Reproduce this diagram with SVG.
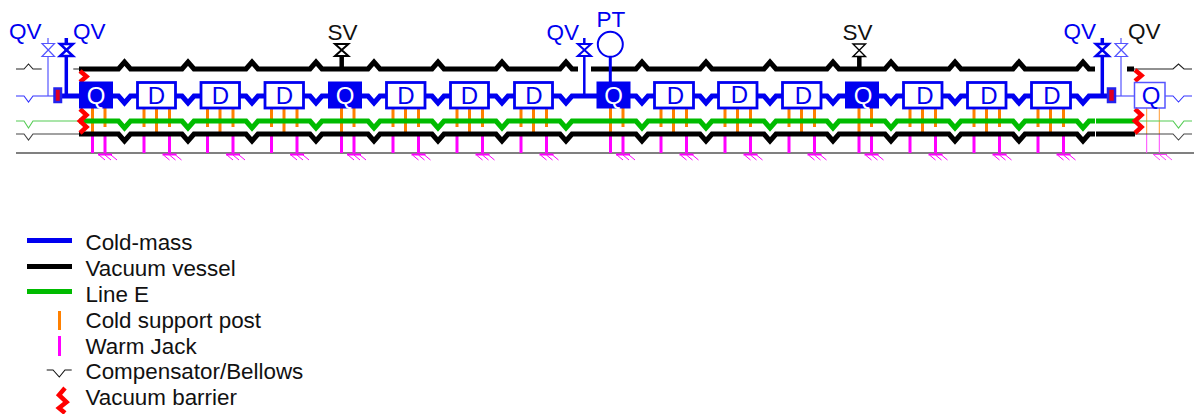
<svg xmlns="http://www.w3.org/2000/svg" width="1194" height="414" viewBox="0 0 1194 414">
<style>
text{font-family:"Liberation Sans",Arial,sans-serif;font-size:22.5px;text-anchor:start}
.lg{font-size:22.4px;fill:#111}
.b{fill:#0000f0}.k{fill:#111}
.n{text-anchor:middle;font-size:24px}
.box{fill:#fff;stroke:#0000f0;stroke-width:2.800}
.fq{fill:#0000f0;stroke:#0000f0;stroke-width:1}
.pipe{fill:none;stroke-linejoin:miter;stroke-width:5}
.thin{fill:none;stroke-width:1.100}
.o{stroke:#ff8000;stroke-width:3;fill:none}
.m{stroke:#ff00ff;stroke-width:3;fill:none}
.h{stroke:#ff00ff;stroke-width:1;fill:none}
.bar{fill:none;stroke:#ff0000;stroke-width:4.500}
</style>
<defs>
<g id="gnd"><path d="M-7 1.500H7" class="m" style="stroke-width:2"/><path d="M-6 2 L0 7M0 2L6 7M6 2L12 7" class="h"/></g>
<g id="postD"><path class="o" d="M7 0V19M19.500 0V24M32.500 0V19"/><path class="m" d="M7 26V45M32.500 26V45"/><use href="#gnd" x="32.500" y="45"/></g>
<g id="postQ"><path class="o" d="M13.500 0V24M26 0V19"/><path class="m" d="M13.500 26V45M26 26V45"/><use href="#gnd" x="26" y="45"/></g>
</defs>

<g id="ground"><path d="M16 153H1194" stroke="#808080" stroke-width="2" fill="none"/></g>

<g id="supports">
<use href="#postQ" x="79" y="108"/>
<use href="#postD" x="137" y="108"/><use href="#postD" x="200.500" y="108"/><use href="#postD" x="264.500" y="108"/>
<use href="#postQ" x="328" y="108"/>
<use href="#postD" x="386" y="108"/><use href="#postD" x="450" y="108"/><use href="#postD" x="514" y="108"/>
<use href="#postQ" x="597" y="108"/>
<use href="#postD" x="654" y="108"/><use href="#postD" x="718" y="108"/><use href="#postD" x="782" y="108"/>
<use href="#postQ" x="845.500" y="108"/>
<use href="#postD" x="903" y="108"/><use href="#postD" x="967" y="108"/><use href="#postD" x="1031" y="108"/>
<path d="M1146.700 108V134M1159.300 108V134" stroke="#ff9a33" stroke-width="1" fill="none"/>
<path d="M1146.700 134V153M1159.300 134V153M1153 154.500H1167M1154 155L1160 160M1160 155L1166 160M1166 155L1172 160" stroke="#ff44ff" stroke-width="1" fill="none"/>
</g>

<g id="connectors">
<path class="thin" stroke="#222" d="M16 69H24L28.500 64L33 69H41.700M73.300 69H79"/>
<path class="thin" stroke="#3333ff" d="M16 96H24L28.500 102L33 96H54"/>
<path class="thin" stroke="#55cc55" d="M16 121H24L28.500 128L33 121H79"/>
<path class="thin" stroke="#444" d="M16 134H24L28.500 140L33 134H79"/>
<path class="thin" stroke="#222" d="M1134 69H1173L1178.500 64L1184 69H1192"/>
<path class="thin" stroke="#3333ff" d="M1115 96H1134M1165 96H1173L1178.500 102L1184 96H1192"/>
<path class="thin" stroke="#55cc55" d="M1134 121H1173L1178.500 128L1184 121H1192"/>
<path class="thin" stroke="#444" d="M1134 134H1173L1178.500 140L1184 134H1192"/>

<path class="pipe" stroke="#000" d="M79 69H112.500l6 0 6-7 6 7 6 0H176l6 0 6-7 6 7 6 0H240l6 0 6-7 6 7 6 0H304l6 0 6-7 6 7 6 0H362l6 0 6-7 6 7 6 0H426l6 0 6-7 6 7 6 0H490l6 0 6-7 6 7 6 0H554l6 0 6-7 6 7 6 0M591 69H630l6 0 6-7 6 7 6 0H694l6 0 6-7 6 7 6 0H758l6 0 6-7 6 7 6 0H821l6 0 6-7 6 7 6 0H879l6 0 6-7 6 7 6 0H943l6 0 6-7 6 7 6 0H1007l6 0 6-7 6 7 6 0H1071l6 0 6-7 6 7 6 0M1127 69H1134"/>
<path class="pipe" stroke="#0000f0" d="M61 96H112.500l6 0 6 7 6-7 6 0H176l6 0 6 7 6-7 6 0H240l6 0 6 7 6-7 6 0H304l6 0 6 7 6-7 6 0H362l6 0 6 7 6-7 6 0H426l6 0 6 7 6-7 6 0H490l6 0 6 7 6-7 6 0H554l6 0 6 7 6-7 6 0H630l6 0 6 7 6-7 6 0H694l6 0 6 7 6-7 6 0H758l6 0 6 7 6-7 6 0H821l6 0 6 7 6-7 6 0H879l6 0 6 7 6-7 6 0H943l6 0 6 7 6-7 6 0H1007l6 0 6 7 6-7 6 0H1071l6 0 6 7 6-7 6 0H1108"/>
<path class="pipe" stroke="#00bb00" d="M79 121H112.500l6 0 6 7 6-7 6 0H176l6 0 6 7 6-7 6 0H240l6 0 6 7 6-7 6 0H304l6 0 6 7 6-7 6 0H362l6 0 6 7 6-7 6 0H426l6 0 6 7 6-7 6 0H490l6 0 6 7 6-7 6 0H554l6 0 6 7 6-7 6 0H630l6 0 6 7 6-7 6 0H694l6 0 6 7 6-7 6 0H758l6 0 6 7 6-7 6 0H821l6 0 6 7 6-7 6 0H879l6 0 6 7 6-7 6 0H943l6 0 6 7 6-7 6 0H1007l6 0 6 7 6-7 6 0H1071l6 0 6 7 6-7 6 0M1096 121H1135"/>
<path class="pipe" stroke="#000" d="M79 134H112.500l6 0 6 7 6-7 6 0H176l6 0 6 7 6-7 6 0H240l6 0 6 7 6-7 6 0H304l6 0 6 7 6-7 6 0H362l6 0 6 7 6-7 6 0H426l6 0 6 7 6-7 6 0H490l6 0 6 7 6-7 6 0H554l6 0 6 7 6-7 6 0H630l6 0 6 7 6-7 6 0H694l6 0 6 7 6-7 6 0H758l6 0 6 7 6-7 6 0H821l6 0 6 7 6-7 6 0H879l6 0 6 7 6-7 6 0H943l6 0 6 7 6-7 6 0H1007l6 0 6 7 6-7 6 0H1071l6 0 6 7 6-7 6 0M1096 134H1135"/>

<path d="M48 38V96" stroke="#5555ff" stroke-width="1.200" fill="none"/>
<path d="M66.300 38V96" stroke="#0000f0" stroke-width="3.500" fill="none"/>
<path d="M341.700 57V69" stroke="#000" stroke-width="4.500" fill="none"/>
<path d="M584.300 38V96" stroke="#0000f0" stroke-width="2.500" fill="none"/>
<path d="M610.300 56V84" stroke="#0000f0" stroke-width="3" fill="none"/>
<path d="M859.300 57V69" stroke="#000" stroke-width="4.500" fill="none"/>
<path d="M1102.300 38V96" stroke="#0000f0" stroke-width="3.500" fill="none"/>
<path d="M1121 38V96" stroke="#5555ff" stroke-width="1.200" fill="none"/>
</g>

<g id="barriers">
<path class="bar" d="M80 71L86.500 76.500L80 82"/>
<path class="bar" d="M80 109L86.500 115L80 121L86.500 127L80 133"/>
<path class="bar" d="M1135 70L1141.500 75.500L1135 81"/>
<path class="bar" d="M1135 109L1141.500 115L1135 121L1141.500 127L1135 133"/>
</g>

<g id="flange-left"><rect x="54.500" y="88.500" width="6.500" height="13.500" fill="#e00020" stroke="#2222ee" stroke-width="2.500"/></g>
<g id="flange-right"><rect x="1108" y="88.500" width="7" height="13.500" fill="#e00020" stroke="#2222ee" stroke-width="2.500"/></g>

<g id="valve-qv1"><path d="M42 43.500H54.500L42 56.500H54.500Z" fill="#fff" stroke="#5555ff" stroke-width="1.200"/><text class="b" x="9" y="39">QV</text></g>
<g id="valve-qv2"><path d="M60 44H73L60 56H73Z" fill="#fff" stroke="#0000f0" stroke-width="2.500"/><text class="b" x="73" y="39">QV</text></g>
<g id="valve-sv1"><path d="M335 44H348.400L335 56H348.400Z" fill="#fff" stroke="#000" stroke-width="2"/><text class="k" x="327.500" y="40">SV</text></g>
<g id="valve-qv3"><path d="M577.800 44H591L577.800 56H591Z" fill="#fff" stroke="#0000f0" stroke-width="2"/><text class="b" x="546.500" y="40">QV</text></g>
<g id="pt"><circle cx="610.300" cy="44.300" r="12.500" fill="#fff" stroke="#0000f0" stroke-width="2"/><text class="b" x="596.500" y="27">PT</text></g>
<g id="valve-sv2"><path d="M853 44H865.500L853 56.500H865.500Z" fill="#fff" stroke="#000" stroke-width="1.400"/><text class="k" x="842.500" y="40">SV</text></g>
<g id="valve-qv4"><path d="M1095.800 44H1108.800L1095.800 56H1108.800Z" fill="#fff" stroke="#0000f0" stroke-width="2.500"/><text class="b" x="1063.500" y="39">QV</text></g>
<g id="valve-qv5"><path d="M1115 43.500H1127.500L1115 56.500H1127.500Z" fill="#fff" stroke="#5555ff" stroke-width="1.200"/><text class="k" x="1128" y="39">QV</text></g>

<g id="q1"><rect class="fq" x="79.500" y="82" width="33" height="26"/><text class="n" fill="#fff" x="96" y="103.500">Q</text></g>
<g id="d1"><rect class="box" x="137.500" y="82.500" width="38" height="25.500"/><text class="n b" x="156.500" y="103.500">D</text></g>
<g id="d2"><rect class="box" x="201" y="82.500" width="38.500" height="25.500"/><text class="n b" x="220.500" y="103.500">D</text></g>
<g id="d3"><rect class="box" x="265" y="82.500" width="38.500" height="25.500"/><text class="n b" x="284.500" y="103.500">D</text></g>
<g id="q2"><rect class="fq" x="328.500" y="82" width="33" height="26"/><text class="n" fill="#fff" x="345" y="103.500">Q</text></g>
<g id="d4"><rect class="box" x="386.500" y="82.500" width="38.500" height="25.500"/><text class="n b" x="406" y="103.500">D</text></g>
<g id="d5"><rect class="box" x="450.500" y="82.500" width="38" height="25.500"/><text class="n b" x="469.500" y="103.500">D</text></g>
<g id="d6"><rect class="box" x="514.500" y="82.500" width="38" height="25.500"/><text class="n b" x="534" y="103.500">D</text></g>
<g id="q3"><rect class="fq" x="597" y="82" width="33" height="26"/><text class="n" fill="#fff" x="613.500" y="103.500">Q</text></g>
<g id="d7"><rect class="box" x="654.500" y="82.500" width="39" height="25.500"/><text class="n b" x="675.500" y="103.500">D</text></g>
<g id="d8"><rect class="box" x="718.500" y="82.500" width="38.500" height="25.500"/><text class="n b" x="739.500" y="102.500">D</text></g>
<g id="d9"><rect class="box" x="782.500" y="82.500" width="38.500" height="25.500"/><text class="n b" x="803.500" y="103.500">D</text></g>
<g id="q4"><rect class="fq" x="845.500" y="82" width="33" height="26"/><text class="n" fill="#fff" x="863" y="103.500">Q</text></g>
<g id="d10"><rect class="box" x="903.500" y="82.500" width="38.500" height="25.500"/><text class="n b" x="925" y="103.500">D</text></g>
<g id="d11"><rect class="box" x="967.500" y="82.500" width="38.500" height="25.500"/><text class="n b" x="989" y="103.500">D</text></g>
<g id="d12"><rect class="box" x="1031.500" y="82.500" width="39" height="25.500"/><text class="n b" x="1052" y="103.500">D</text></g>
<g id="q5"><rect x="1134.500" y="82.500" width="30.500" height="25.500" fill="none" stroke="#5555ff" stroke-width="1.500"/><text class="n b" x="1151" y="103.500">Q</text></g>

<g id="legend">
<path d="M27 240.500H72" stroke="#0000f0" stroke-width="5" fill="none"/><text class="lg" x="85.500" y="250">Cold-mass</text>
<path d="M27 266.500H72" stroke="#000" stroke-width="5" fill="none"/><text class="lg" x="85.500" y="276">Vacuum vessel</text>
<path d="M27 291.500H72" stroke="#00bb00" stroke-width="5" fill="none"/><text class="lg" x="85.500" y="302">Line E</text>
<path d="M59.500 311V330" class="o"/><text class="lg" x="85.500" y="328">Cold support post</text>
<path d="M59.500 336V356" class="m"/><text class="lg" x="85.500" y="354">Warm Jack</text>
<path d="M46.700 370H53L59.300 377L65 370H71.700" class="thin" stroke="#111"/><text class="lg" x="85.500" y="378.500">Compensator/Bellows</text>
<path d="M65 388L59 395L66.500 402L59 408L65 413" class="bar"/><text class="lg" x="85.500" y="404.500">Vacuum barrier</text>
</g>
</svg>
